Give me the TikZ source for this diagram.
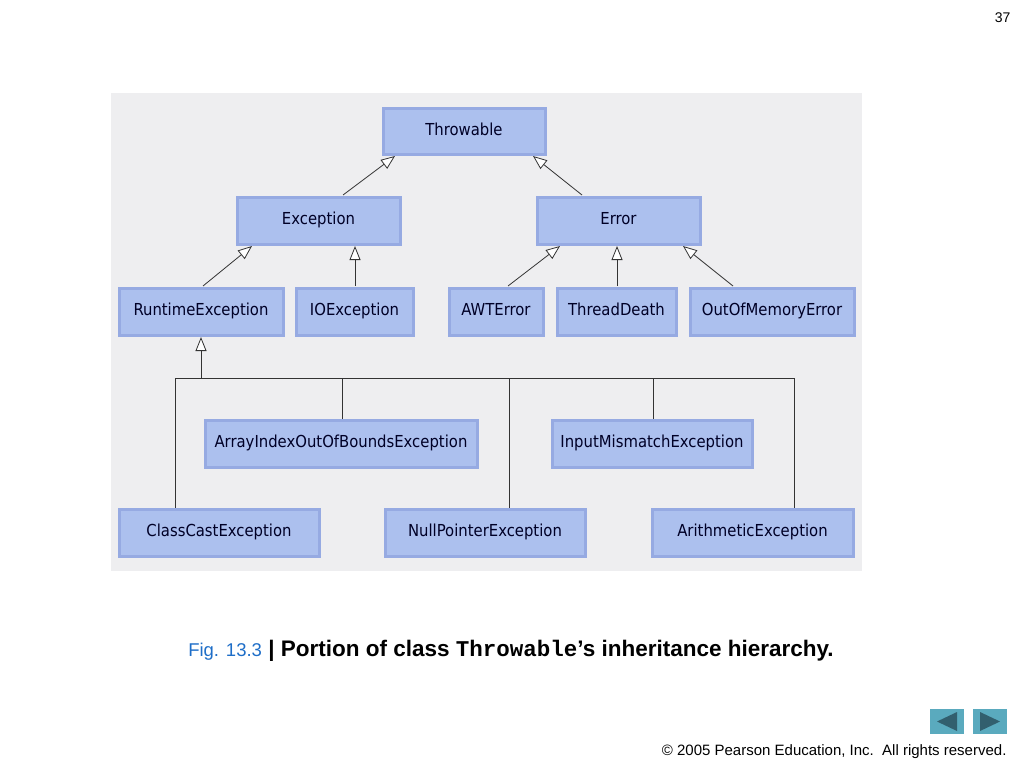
\documentclass[tikz,border=0pt]{standalone}
\usepackage{fontspec}
\setmainfont{Liberation Sans}
\newfontfamily\boxfont{DejaVu Sans Condensed}
\newfontfamily\monofont{Liberation Mono}
\usetikzlibrary{arrows.meta}
\definecolor{boxfill}{RGB}{172,192,238}
\definecolor{boxedge}{RGB}{150,170,226}
\definecolor{panel}{RGB}{238,238,240}
\definecolor{figblue}{RGB}{30,110,200}
\definecolor{navbtn}{RGB}{90,170,190}
\definecolor{navarr}{RGB}{50,95,110}
\begin{document}
\begin{tikzpicture}[x=1pt,y=-1pt,
  cls/.style={draw=boxedge,line width=3pt,fill=boxfill,inner sep=0pt,text height=11pt,text depth=3pt,font=\boxfont\fontsize{16.5}{16.5}\selectfont,text=black!85!blue},
  inh/.style={draw=black!80,line width=0.8pt,-{Triangle[open,fill=white,length=14pt,width=11pt]}},
  ln/.style={draw=black!80,line width=0.8pt}]
\useasboundingbox (0,0) rectangle (1024,768);
\fill[white] (0,0) rectangle (1024,768);
\fill[panel] (111,93) rectangle (862,571);
\newcommand\bx[6]{\node[cls,minimum width={#4-#2},minimum height={#5-#3}] (#1) at ({(#2+#4)/2},{(#3+#5)/2}) {#6};}
\bx{thr}{383}{108}{545}{154}{Throwable}
\bx{exc}{237}{197}{400}{244}{Exception}
\bx{err}{537}{197}{700}{244}{Error}
\bx{rte}{119}{288}{283}{335}{RuntimeException}
\bx{ioe}{296}{288}{413}{335}{IOException}
\bx{awt}{449}{288}{543}{335}{AWTError}
\bx{thd}{557}{288}{676}{335}{ThreadDeath}
\bx{oom}{690}{288}{854}{335}{OutOfMemoryError}
\bx{aio}{205}{420}{477}{467}{ArrayIndexOutOfBoundsException}
\bx{ime}{552}{420}{752}{467}{InputMismatchException}
\bx{cce}{119}{509}{319}{556}{ClassCastException}
\bx{npe}{385}{509}{585}{556}{NullPointerException}
\bx{ari}{652}{509}{853}{556}{ArithmeticException}
\draw[inh] (343,195) -- (395,156);
\draw[inh] (582,195) -- (533,156);
\draw[inh] (203,286) -- (252,246);
\draw[inh] (355,286) -- (355,246);
\draw[inh] (508,286) -- (560,246);
\draw[inh] (617,286) -- (617,246);
\draw[inh] (733,286) -- (683,246);
\coordinate (bl) at (175,378);
\coordinate (br) at (794,378);
\coordinate (bj) at (201,378);
\draw[ln] (bl) -- (br);
\draw[inh] (bj) -- (201,337);
\draw[ln] (bl) -- (cce.north -| bl);
\draw[ln] (342,378) -- (aio.north -| 342,0);
\draw[ln] (509,378) -- (npe.north -| 509,0);
\draw[ln] (653,378) -- (ime.north -| 653,0);
\draw[ln] (br) -- (ari.north -| br);
\node[anchor=east,font=\fontsize{14}{14}\selectfont] (pg) at (1014,18) {37};
\node[font=\fontsize{22.5}{22.5}\selectfont\bfseries] (cap) at (511,651) {\textcolor{figblue}{\fontsize{18.5}{18.5}\selectfont\mdseries Fig. 13.3} | Portion of class {\monofont\bfseries Throwable}’s inheritance hierarchy.};
\node[anchor=east,font=\fontsize{15}{15}\selectfont] (copy) at (1010,752) {\textcopyright{} 2005 Pearson Education, Inc.\ \ All rights reserved.};
\fill[navbtn] (930,709) rectangle (964,734);
\fill[navbtn] (973,709) rectangle (1007,734);
\fill[navarr] (937,721.5) -- (957,712) -- (957,731) -- cycle;
\fill[navarr] (1000,721.5) -- (980,712) -- (980,731) -- cycle;
\end{tikzpicture}
\end{document}
